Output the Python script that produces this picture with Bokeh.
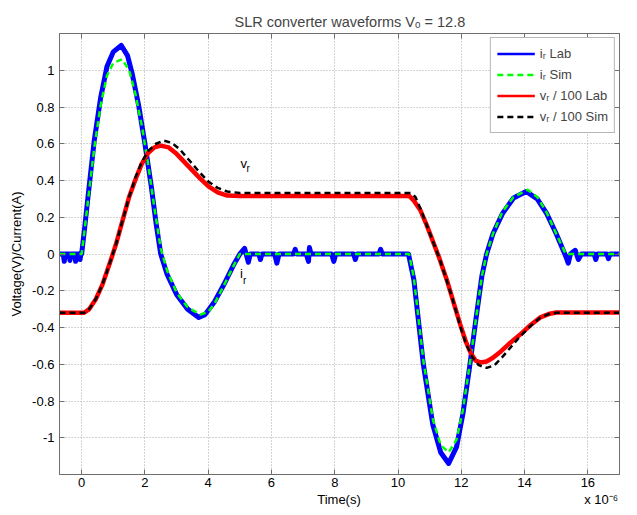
from bokeh.plotting import figure
from bokeh.models import Range1d, FixedTicker, LinearAxis, Label, Legend, LegendItem
from bokeh.embed import file_html
from bokeh.resources import INLINE

# ---------------- data (time in microseconds) ----------------
ir_lab_t = [-0.7, -0.58, -0.55, -0.52, -0.4, -0.37, -0.34, -0.22, -0.19, -0.16, -0.08, -0.05, -0.02, 0.0,
            0.1, 0.2, 0.4, 0.6, 0.8, 1.0, 1.25, 1.45, 1.6, 1.8, 2.0, 2.2, 2.35, 2.5, 2.7, 3.0, 3.35,
            3.7, 3.9, 4.2, 4.5, 4.8, 5.0,
            5.15, 5.2, 5.27, 5.33, 5.6, 5.65, 5.7, 6.1, 6.17, 6.24, 6.7, 6.75, 6.8, 7.1, 7.17, 7.2,
            7.25, 7.9, 7.97, 8.03, 8.6, 8.65, 8.7, 9.4, 9.45, 9.5, 10.0, 10.33,
            10.5, 10.8, 11.1, 11.35, 11.6, 11.85, 12.05, 12.25, 12.45, 12.65, 12.8, 13.0, 13.3,
            13.65, 14.05, 14.4, 14.7, 15.0, 15.32,
            15.38, 15.45, 15.6, 15.7, 15.8, 16.2, 16.25, 16.3, 16.6, 16.65, 16.7, 17.0]
ir_lab_v = [0.0, 0.0, -0.04, 0.0, 0.0, -0.035, 0.0, 0.0, -0.04, 0.0, 0.0, -0.03, 0.005, 0.0,
            0.15, 0.31, 0.62, 0.85, 1.02, 1.1, 1.135, 1.08, 0.98, 0.81, 0.6, 0.37, 0.17, 0.0, -0.11,
            -0.22, -0.30, -0.345, -0.33, -0.26, -0.165, -0.06, 0.0,
            0.03, 0.0, -0.045, 0.0, 0.0, -0.03, 0.0, 0.0, -0.05, 0.0, 0.0, 0.025, 0.0, 0.0, -0.04,
            0.035, 0.0, 0.0, -0.04, 0.0, 0.0, -0.03, 0.0, 0.0, 0.025, 0.0, 0.0, 0.0,
            -0.14, -0.6, -0.93, -1.08, -1.14, -1.05, -0.87, -0.63, -0.37, -0.12, 0.0, 0.11, 0.22,
            0.305, 0.34, 0.30, 0.22, 0.11, -0.02,
            -0.05, 0.0, 0.02, -0.03, 0.0, 0.0, -0.03, 0.0, 0.0, -0.025, 0.0, 0.0]

ir_sim_t = [-0.7, 0.0, 0.1, 0.2, 0.4, 0.6, 0.8, 1.0, 1.28, 1.5, 1.7, 1.9, 2.1, 2.3, 2.5, 2.7, 3.0,
            3.35, 3.75, 4.0, 4.2, 4.5, 4.8, 5.0, 10.35, 10.5, 10.8, 11.1, 11.35, 11.6, 11.85, 12.05,
            12.25, 12.45, 12.65, 12.8, 13.0, 13.3, 13.65, 14.1, 14.4, 14.7, 15.0, 15.3, 17.0]
ir_sim_v = [0.0, 0.0, 0.14, 0.29, 0.58, 0.81, 0.97, 1.04, 1.06, 1.0, 0.87, 0.7, 0.49, 0.25, 0.03,
            -0.09, -0.21, -0.29, -0.33, -0.315, -0.27, -0.17, -0.065, 0.0, 0.0, -0.13, -0.58, -0.9,
            -1.04, -1.08, -1.01, -0.85, -0.62, -0.37, -0.12, 0.0, 0.11, 0.23, 0.31, 0.35, 0.31,
            0.225, 0.11, 0.0, 0.0]

vr_lab_t = [-0.7, 0.08, 0.24, 0.45, 0.66, 0.87, 1.08, 1.29, 1.5, 1.71, 1.9, 2.1, 2.3, 2.5, 2.75,
            3.0, 3.25, 3.5, 3.75, 4.0, 4.3, 4.6, 5.0, 10.36, 10.5, 10.7, 10.9, 11.1, 11.3, 11.55,
            11.75, 11.96, 12.15, 12.3, 12.45, 12.6, 12.8, 13.0, 13.25, 13.5, 13.85, 14.2, 14.5,
            14.8, 15.0, 17.0]
vr_lab_v = [-0.32, -0.32, -0.30, -0.245, -0.165, -0.06, 0.05, 0.18, 0.31, 0.41, 0.49, 0.55, 0.58,
            0.59, 0.58, 0.545, 0.50, 0.455, 0.41, 0.37, 0.335, 0.318, 0.315, 0.315, 0.29, 0.24,
            0.16, 0.07, -0.02, -0.145, -0.26, -0.38, -0.48, -0.54, -0.58, -0.59, -0.585, -0.565,
            -0.53, -0.49, -0.44, -0.385, -0.345, -0.325, -0.318, -0.318]

vr_sim_t = [-0.7, 0.08, 0.24, 0.45, 0.66, 0.87, 1.08, 1.29, 1.5, 1.71, 1.9, 2.1, 2.35, 2.6, 2.85,
            3.1, 3.4, 3.7, 4.0, 4.3, 4.6, 5.0, 10.4, 10.55, 10.7, 10.9, 11.1, 11.3, 11.55, 11.75,
            11.96, 12.15, 12.35, 12.55, 12.8, 13.05, 13.3, 13.55, 13.85, 14.2, 14.5, 14.8, 15.0, 17.0]
vr_sim_v = [-0.32, -0.32, -0.30, -0.245, -0.165, -0.06, 0.05, 0.18, 0.31, 0.42, 0.50, 0.56, 0.60,
            0.617, 0.605, 0.57, 0.51, 0.45, 0.395, 0.36, 0.34, 0.332, 0.332, 0.31, 0.25, 0.16, 0.07,
            -0.02, -0.15, -0.26, -0.39, -0.49, -0.56, -0.605, -0.62, -0.605, -0.56, -0.51, -0.45,
            -0.39, -0.345, -0.325, -0.32, -0.32]

x_ticks = [0, 2, 4, 6, 8, 10, 12, 14, 16]
x_tick_labels = ["0", "2", "4", "6", "8", "10", "12", "14", "16"]
y_ticks = [-1.0, -0.8, -0.6, -0.4, -0.2, 0.0, 0.2, 0.4, 0.6, 0.8, 1.0]
y_tick_labels = ["-1", "-0.8", "-0.6", "-0.4", "-0.2", "0", "0.2", "0.4", "0.6", "0.8", "1"]
legend_labels = ["i\u1d63 Lab", "i\u1d63 Sim", "v\u1d63 / 100 Lab", "v\u1d63 / 100 Sim"]
title_text = "SLR converter waveforms V\u2092 = 12.8"
x_label_text = "Time(s)"
x_scale_text = "x 10\u207b\u2076"
y_label_text = "Voltage(V)/Current(A)"

FONT = "Liberation Sans"
AX = "#6e6e6e"

p = figure(frame_width=560, frame_height=441,
           x_range=Range1d(-0.7, 17), y_range=Range1d(-1.2, 1.2),
           output_backend="svg", toolbar_location=None,
           min_border_left=59, min_border_right=17, min_border_top=33, min_border_bottom=40)
p.background_fill_color = "white"
p.border_fill_color = "white"
p.outline_line_color = AX

p.title.text = title_text
p.title.text_font = FONT
p.title.text_font_size = "14.5px"
p.title.text_font_style = "normal"
p.title.align = "left"
p.title.offset = 175
p.title.standoff = 8

xt = FixedTicker(ticks=x_ticks, minor_ticks=[])
yt = FixedTicker(ticks=y_ticks, minor_ticks=[])

for ax in p.xaxis:
    ax.ticker = xt
    ax.major_label_overrides = {t: l for t, l in zip(x_ticks, x_tick_labels)}
for ax in p.yaxis:
    ax.ticker = yt
    ax.major_label_overrides = {t: l for t, l in zip(y_ticks, y_tick_labels)}
    ax.axis_label = y_label_text

for ax in list(p.xaxis) + list(p.yaxis):
    ax.major_tick_in = 5
    ax.major_tick_out = 0
    ax.minor_tick_line_color = None
    ax.axis_line_color = AX
    ax.major_tick_line_color = AX
    ax.major_label_text_font = FONT
    ax.major_label_text_font_size = "13px"
    ax.major_label_text_color = "black"
    ax.axis_label_text_font = FONT
    ax.axis_label_text_font_size = "13px"
    ax.axis_label_text_font_style = "normal"
    ax.axis_label_text_color = "black"
p.xaxis.major_label_standoff = 3
p.yaxis.major_label_standoff = 5
p.yaxis.axis_label_standoff = 5

# second row below the x axis: "Time(s)" and the scale note on one line
x_label_pos = 8.134
x_scale_pos = 16.42
label_ax = LinearAxis(ticker=FixedTicker(ticks=[x_label_pos, x_scale_pos], minor_ticks=[]),
                      major_label_overrides={x_label_pos: x_label_text, x_scale_pos: x_scale_text},
                      axis_line_color=None, major_tick_line_color=None, minor_tick_line_color=None,
                      major_tick_in=0, major_tick_out=0, major_label_standoff=2,
                      major_label_text_font=FONT, major_label_text_font_size="13px",
                      major_label_text_color="black")
p.add_layout(label_ax, "below")

# box ticks on the right and top (no labels)
right_ax = LinearAxis(ticker=yt, major_tick_in=5, major_tick_out=0, axis_line_color=AX,
                      major_tick_line_color=AX, major_label_text_font_size="1px",
                      major_label_text_color=None, major_label_standoff=0,
                      minor_tick_line_color=None)
top_ax = LinearAxis(ticker=xt, major_tick_in=5, major_tick_out=0, axis_line_color=AX,
                    major_tick_line_color=AX, major_label_text_font_size="1px",
                    major_label_text_color=None, major_label_standoff=0,
                    minor_tick_line_color=None)
p.add_layout(right_ax, "right")
p.add_layout(top_ax, "above")

p.xgrid.grid_line_color = "#a8a8a8"
p.ygrid.grid_line_color = "#a8a8a8"
p.xgrid.grid_line_dash = "1 2"
p.ygrid.grid_line_dash = "1 2"

# thin copies (hidden under the thick traces) give the legend its thinner sample lines
r1_leg = p.line(ir_lab_t, ir_lab_v, line_color="#0000ff", line_width=2.5)
r1 = p.line(ir_lab_t, ir_lab_v, line_color="#0000ff", line_width=5, line_join="round")
r2 = p.line(ir_sim_t, ir_sim_v, line_color="#00ff00", line_width=2.5, line_dash="6 4")
r3_leg = p.line(vr_lab_t, vr_lab_v, line_color="#ff0000", line_width=2.5)
r3 = p.line(vr_lab_t, vr_lab_v, line_color="#ff0000", line_width=4.5, line_join="round")
r4 = p.line(vr_sim_t, vr_sim_v, line_color="black", line_width=2.5, line_dash="6 4")

legend = Legend(items=[LegendItem(label=legend_labels[0], renderers=[r1_leg]),
                       LegendItem(label=legend_labels[1], renderers=[r2]),
                       LegendItem(label=legend_labels[2], renderers=[r3_leg]),
                       LegendItem(label=legend_labels[3], renderers=[r4])],
                location="top_right", margin=4, padding=6, spacing=2,
                label_height=19, glyph_height=19, glyph_width=38, label_standoff=5,
                label_text_font=FONT, label_text_font_size="13px",
                border_line_color=AX, border_line_width=1,
                background_fill_color="white", background_fill_alpha=1.0)
p.add_layout(legend)

def lab(x, y, text, size):
    p.add_layout(Label(x=x, y=y, text=text, text_font=FONT, text_font_size=size,
                       text_align="left", text_baseline="alphabetic", text_color="black"))

# in-plot annotations
lab(5.021, 0.4952, "v", "13px")
lab(5.211, 0.4626, "r", "10px")
lab(5.005, -0.1078, "i", "13px")
lab(5.100, -0.1442, "r", "10px")

open("out.html", "w").write(file_html(p, INLINE))
